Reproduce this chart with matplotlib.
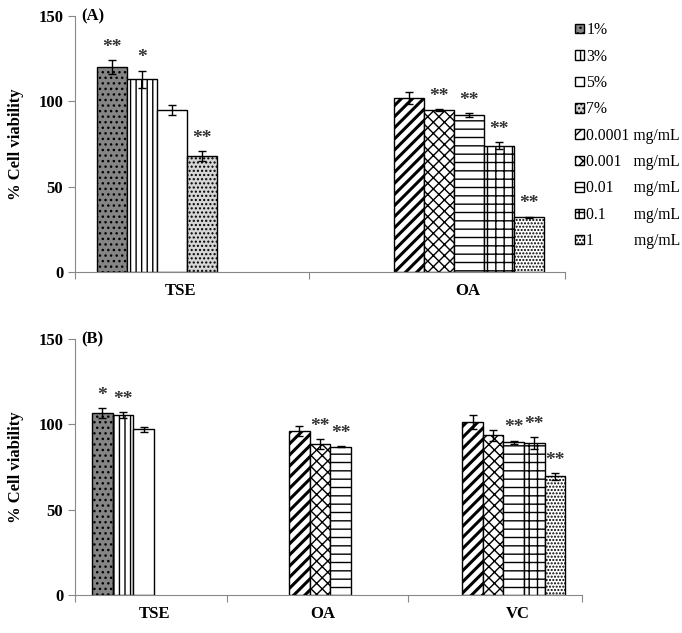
import matplotlib.pyplot as plt

plt.rcParams['font.family'] = ['Liberation Serif', 'DejaVu Serif']
plt.rcParams['hatch.linewidth'] = 1.0

# series (legend order)
series = ["1%", "3%", "5%", "7%", "0.0001 mg/mL", "0.001   mg/mL",
          "0.01     mg/mL", "0.1       mg/mL", "1          mg/mL"]
faces = ["#858585", "white", "white", "#d6d6d6", "white", "white", "white", "white", "white"]
hatches = ["...", "|||", "", "....", "///", "xxx", "--", "++", "....."]

# panel A
a_tse = [120, 113, 95, 68]
a_tse_err = [4, 5, 3, 3]
a_tse_sig = ["**", "*", "", "**"]
a_oa = [102, 95, 92, 74, 32]
a_oa_err = [3.5, 0.5, 1, 2, 0.5]
a_oa_sig = ["", "**", "**", "**", "**"]

# panel B
b_tse = [106.5, 105.5, 97]
b_tse_err = [3, 1.5, 1.5]
b_tse_sig = ["*", "**", ""]
b_oa = [96, 88.5, 87]
b_oa_err = [3, 2.7, 0.5]
b_oa_sig = ["", "**", "**"]
b_vc = [101.5, 93.5, 89.5, 89, 69.5]
b_vc_err = [4, 3.4, 1, 3.5, 2]
b_vc_sig = ["", "", "**", "**", "**"]

fig = plt.figure(figsize=(6.82, 6.33), dpi=100)
axA = fig.add_axes([75/682, 1-272/633, 490/682, 256/633])
axB = fig.add_axes([75/682, 1-595/633, 507/682, 256/633])

def group(ax, start, vals, errs, sigs, first, label=True):
    for i, (v, e, s) in enumerate(zip(vals, errs, sigs)):
        k = first + i
        x = start + 0.5 + i
        b = ax.bar(x, v, width=1.0, color=faces[k], edgecolor="black", linewidth=1,
                   hatch=hatches[k], label=series[k] if label else None)
        if k == 4:
            for p in b:
                if hasattr(p, "set_hatch_linewidth"):
                    p.set_hatch_linewidth(2.2)
        ax.errorbar(x, v, yerr=e, color="black", capsize=3, elinewidth=1, capthick=1)
        if s:
            ax.annotate(s, (x, v + e), xytext=(0, 3), textcoords="offset points",
                        ha="center", va="bottom", fontsize=14, color="#333333",
                        fontweight="bold")

group(axA, 0.733, a_tse, a_tse_err, a_tse_sig, 0)
group(axA, 10.63, a_oa, a_oa_err, a_oa_sig, 4)
group(axB, 0.825, b_tse, b_tse_err, b_tse_sig, 0, False)
group(axB, 10.39, b_oa, b_oa_err, b_oa_sig, 4, False)
group(axB, 18.79, b_vc, b_vc_err, b_vc_sig, 4, False)

def style(ax, xmax, bounds, centers, names, tag):
    ax.set_xlim(0, xmax)
    ax.set_ylim(0, 150)
    ax.set_yticks([0, 50, 100, 150])
    ax.set_xticks(bounds)
    ax.set_xticklabels([])
    ax.set_xticks(centers, minor=True)
    ax.set_xticklabels(names, minor=True, fontsize=12, fontweight="bold")
    ax.tick_params(axis="x", which="minor", length=0, pad=8)
    ax.tick_params(axis="x", which="major", length=5, color="#888888")
    ax.tick_params(axis="y", length=5, color="#888888", labelsize=12)
    for t in ax.get_yticklabels():
        t.set_fontweight("bold")
    for sp in ["top", "right"]:
        ax.spines[sp].set_visible(False)
    for sp in ["left", "bottom"]:
        ax.spines[sp].set_color("#888888")
    ax.set_ylabel("% Cell viability", fontsize=12, fontweight="bold", labelpad=10)
    ax.text(0.012, 1.0, tag, transform=ax.transAxes, fontsize=12, fontweight="bold",
            ha="left", va="center")

style(axA, 16.33, [0, 7.8, 16.33], [3.53, 13.1], ["TSE", "OA"], "(A)")
style(axB, 24.6, [0, 7.38, 16.17, 24.6], [3.88, 12.04, 21.46], ["TSE", "OA", "VC"], "(B)")

h, l = axA.get_legend_handles_labels()
fig.legend(h, l, loc="upper left", bbox_to_anchor=(569/682, 1-16/633), frameon=False,
           fontsize=11.3, handlelength=0.55, handleheight=0.55, handletextpad=0.15,
           labelspacing=0.66, borderaxespad=0)

fig.savefig("out.png", dpi=100)
